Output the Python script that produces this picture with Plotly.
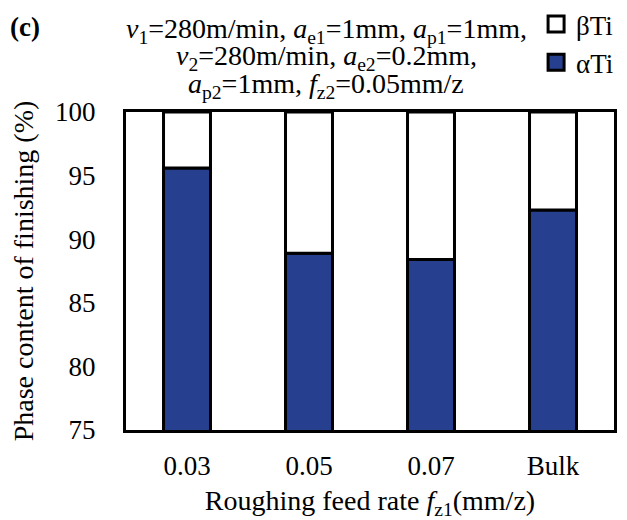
import plotly.graph_objects as go

categories = ["0.03", "0.05", "0.07", "Bulk"]
alpha_ti = [95.6, 88.9, 88.4, 92.3]
beta_ti = [100 - a for a in alpha_ti]

FONT = "Liberation Serif, Times New Roman, serif"
ALPHA_COLOR = "#26408F"

fig = go.Figure()
fig.add_trace(go.Bar(x=categories, y=alpha_ti, name="αTi", base=0, showlegend=False,
                     marker=dict(color=ALPHA_COLOR, line=dict(color="black", width=3)),
                     width=0.385))
fig.add_trace(go.Bar(x=categories, y=beta_ti, name="βTi", base=alpha_ti, showlegend=False,
                     marker=dict(color="white", line=dict(color="black", width=3)),
                     width=0.385))
# legend entries (square swatches)
fig.add_trace(go.Scatter(x=[None], y=[None], mode="markers", name="βTi", legendgroup="b",
                         marker=dict(symbol="square", size=16, color="white",
                                     line=dict(color="black", width=3))))
fig.add_trace(go.Scatter(x=[None], y=[None], mode="markers", name="αTi", legendgroup="a",
                         marker=dict(symbol="square", size=16, color=ALPHA_COLOR,
                                     line=dict(color="black", width=3))))

fig.update_layout(
    barmode="overlay",
    width=627, height=520,
    margin=dict(l=126, r=13, t=112, b=90, autoexpand=False),
    paper_bgcolor="white", plot_bgcolor="white",
    font=dict(family=FONT, size=27, color="black"),
    showlegend=True,
    legend=dict(x=0.855, y=1.03, xref="container", yref="container", xanchor="left", yanchor="top",
                traceorder="grouped", font=dict(size=27), itemwidth=30,
                bgcolor="rgba(0,0,0,0)", tracegroupgap=0),
    xaxis=dict(showgrid=False, ticks="", tickfont=dict(size=27), automargin=False,
               ticklabelstandoff=10,
               showline=True, linecolor="black", linewidth=3, mirror=True,
               title=dict(text="Roughing feed rate <i>f</i><sub>z1</sub>(mm/z)",
                          font=dict(size=28), standoff=32)),
    yaxis=dict(range=[75, 100], dtick=5, showgrid=False, ticks="", tickfont=dict(size=27),
               automargin=False, ticklabelstandoff=22,
               showline=True, linecolor="black", linewidth=3, mirror=True,
               title=dict(text="Phase content of finishing (%)", font=dict(size=28), standoff=14)),
)

fig.add_annotation(text="<b>(c)</b>", x=-0.207, y=1.0, xref="paper", yref="paper",
                   yshift=85, xanchor="center", yanchor="middle",
                   showarrow=False, font=dict(size=27))

annot_lines = [
    "<i>v</i><sub>1</sub>=280m/min, <i>a</i><sub>e1</sub>=1mm, <i>a</i><sub>p1</sub>=1mm,",
    "<i>v</i><sub>2</sub>=280m/min, <i>a</i><sub>e2</sub>=0.2mm,",
    "<i>a</i><sub>p2</sub>=1mm, <i>f</i><sub>z2</sub>=0.05mm/z",
]
for line, yy in zip(annot_lines, [82, 55, 27]):
    fig.add_annotation(text=line, x=0.41, y=1.0, xref="paper", yref="paper",
                       yshift=yy, xanchor="center", yanchor="middle",
                       showarrow=False, font=dict(size=28))

fig.write_html("out.html")
